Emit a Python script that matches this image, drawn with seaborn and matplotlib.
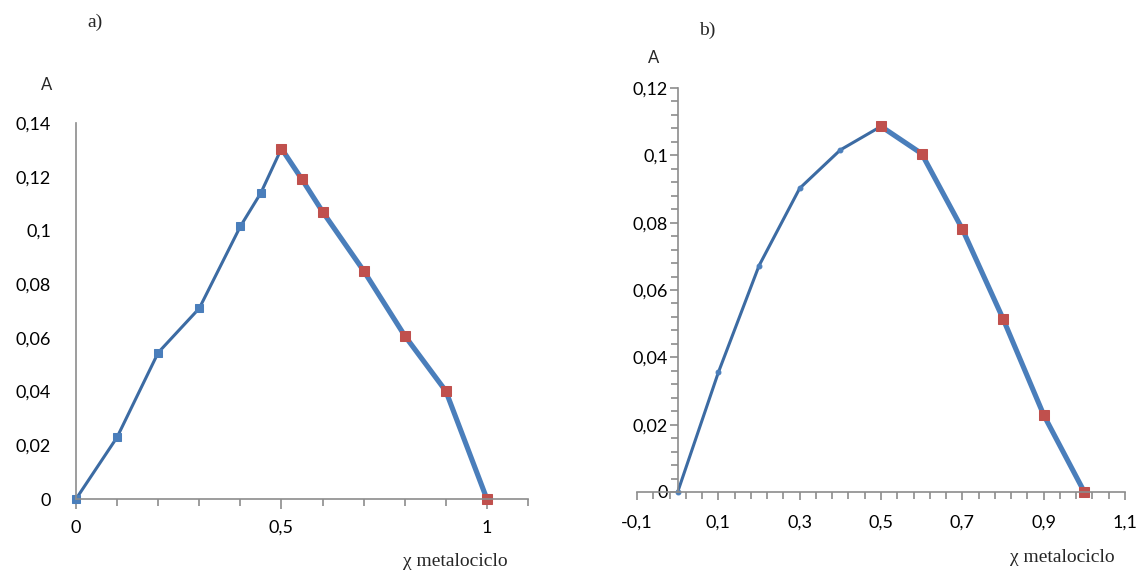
import matplotlib
matplotlib.use("Agg")
import matplotlib.pyplot as plt
import matplotlib.ticker as mticker
import seaborn as sns

# --- data (Job plot, absorbance vs mole fraction) ---
# panel a)
xa_rise = [0, 0.1, 0.2, 0.3, 0.4, 0.45, 0.5]
ya_rise = [0, 0.023, 0.0545, 0.071, 0.1015, 0.114, 0.1305]
xa_fall = [0.5, 0.55, 0.6, 0.7, 0.8, 0.9, 1.0]
ya_fall = [0.1305, 0.119, 0.107, 0.085, 0.0608, 0.0402, 0]

# panel b)
xb_rise = [0, 0.1, 0.2, 0.3, 0.4, 0.5]
yb_rise = [0, 0.0355, 0.0672, 0.0902, 0.1016, 0.1086]
xb_fall = [0.5, 0.6, 0.7, 0.8, 0.9, 1.0]
yb_fall = [0.1086, 0.1005, 0.0781, 0.0515, 0.0229, 0]

ya_ticks = [0, 0.02, 0.04, 0.06, 0.08, 0.1, 0.12, 0.14]
xa_ticks = [0, 0.5, 1]
yb_ticks = [0, 0.02, 0.04, 0.06, 0.08, 0.1, 0.12]
xb_ticks = [-0.1, 0.1, 0.3, 0.5, 0.7, 0.9, 1.1]

x_label = "\u03c7 metalociclo"
y_label = "A"

sns.set_style("white")
plt.rcParams["font.family"] = ["Lato", "DejaVu Sans"]

BLUE_THIN = "#3c6ba3"
BLUE_THICK = "#4a7ebb"
BLUE_MK = "#4a7ebb"
RED_MK = "#c0504d"
AXIS_GRAY = "#8c8c8c"

W, H = 1147, 574
fig = plt.figure(figsize=(W / 100, H / 100), dpi=100)


def comma_fmt(v, pos=None):
    s = f"{round(v, 4):g}"
    if s == "-0":
        s = "0"
    return s.replace(".", ",")


def px_axes(left, top, right, bottom):
    return fig.add_axes([left / W, 1 - bottom / H, (right - left) / W, (bottom - top) / H])


def style_axes(ax):
    for side in ["top", "right"]:
        ax.spines[side].set_visible(False)
    for side in ["left", "bottom"]:
        ax.spines[side].set_color(AXIS_GRAY)
        ax.spines[side].set_linewidth(1.2)
    ax.xaxis.set_major_formatter(mticker.FuncFormatter(comma_fmt))
    ax.yaxis.set_major_formatter(mticker.FuncFormatter(comma_fmt))
    ax.tick_params(which="both", bottom=True, left=True, labelsize=13,
                   colors=AXIS_GRAY, labelcolor="black")
    ax.set_xlabel("")
    ax.set_ylabel("")
    ax.grid(False)


# ---------------- panel a) ----------------
ax1 = px_axes(76, 123, 528, 499)
sns.lineplot(x=xa_rise, y=ya_rise, ax=ax1, color=BLUE_THIN, linewidth=2.2,
             marker="s", markersize=6, markerfacecolor=BLUE_MK, markeredgecolor=BLUE_MK)
sns.lineplot(x=xa_fall, y=ya_fall, ax=ax1, color=BLUE_THICK, linewidth=3.7,
             marker="s", markersize=6.5, markerfacecolor=RED_MK, markeredgecolor=RED_MK)
ax1.set_xlim(0, 1.1)
ax1.set_ylim(0, 0.14)
ax1.set_xticks(xa_ticks)
ax1.set_yticks(ya_ticks)
ax1.xaxis.set_minor_locator(mticker.MultipleLocator(0.1))
style_axes(ax1)
ax1.tick_params(axis="x", which="major", direction="out", length=7, width=1.2, pad=8)
ax1.tick_params(axis="x", which="minor", direction="out", length=5, width=1.2)
ax1.tick_params(axis="y", which="both", length=0, pad=18)
for mk in ax1.lines:
    mk.set_clip_on(False)

fig.text(95 / W, 1 - 22 / H, "a)", fontsize=14, family="Liberation Serif",
         ha="center", va="center")
fig.text(47 / W, 1 - 85 / H, y_label, fontsize=12, ha="center", va="center")
fig.text(455 / W, 1 - 561 / H, x_label, fontsize=14, family="Liberation Serif",
         ha="center", va="center")

# ---------------- panel b) ----------------
ax2 = px_axes(637, 88, 1125, 492)
sns.lineplot(x=xb_rise, y=yb_rise, ax=ax2, color=BLUE_THIN, linewidth=2.2,
             marker="o", markersize=3.5, markerfacecolor=BLUE_MK, markeredgecolor=BLUE_MK)
sns.lineplot(x=xb_fall, y=yb_fall, ax=ax2, color=BLUE_THICK, linewidth=3.7,
             marker="s", markersize=6.5, markerfacecolor=RED_MK, markeredgecolor=RED_MK)
ax2.set_xlim(-0.1, 1.1)
ax2.set_ylim(0, 0.12)
ax2.set_xticks(xb_ticks)
ax2.set_yticks(yb_ticks)
ax2.xaxis.set_minor_locator(mticker.MultipleLocator(0.04, offset=-0.1))
ax2.yaxis.set_minor_locator(mticker.MultipleLocator(0.004))
style_axes(ax2)
ax2.spines["left"].set_position(("data", 0))
ax2.tick_params(axis="x", which="major", direction="out", length=6, width=1.2, pad=10)
ax2.tick_params(axis="x", which="minor", direction="out", length=5, width=1.2)
ax2.tick_params(axis="y", which="major", direction="out", length=6, width=1.2, pad=1)
ax2.tick_params(axis="y", which="minor", direction="out", length=5, width=1.2)
for mk in ax2.lines:
    mk.set_clip_on(False)

fig.text(707 / W, 1 - 30 / H, "b)", fontsize=14, family="Liberation Serif",
         ha="center", va="center")
fig.text(654 / W, 1 - 58 / H, y_label, fontsize=12, ha="center", va="center")
fig.text(1062 / W, 1 - 558 / H, x_label, fontsize=14, family="Liberation Serif",
         ha="center", va="center")

fig.savefig("out.png", dpi=100, facecolor="white")
